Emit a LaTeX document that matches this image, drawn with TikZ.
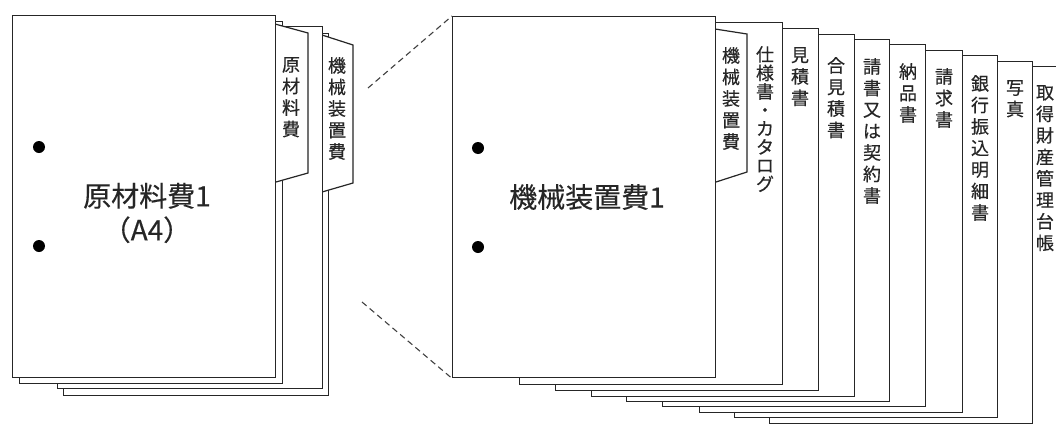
\documentclass[tikz,border=0pt]{standalone}
\usepackage{fontspec}
\newfontfamily\jp[FakeBold=0.4]{Noto Sans CJK JP}
\begin{document}
\begin{tikzpicture}[x=1pt,y=-1pt,
  pg/.style={draw=black!85, line width=1.4pt, fill=white, rectangle, anchor=north west, inner sep=0pt, minimum width=263pt, minimum height=362pt},
  tabshape/.style={draw=black!85, line width=1.2pt, fill=white, line join=miter},
  vlab/.style={anchor=north, inner sep=0pt, align=center, text=black!85, font=\jp\fontsize{18}{21.5}\selectfont},
  bigl/.style={inner sep=0pt, align=center, text=black!85, font=\jp\fontsize{28}{34}\selectfont},
  hole/.style={circle, fill=black, inner sep=0pt, minimum size=12pt},
  guide/.style={draw=black!75, line width=1.1pt, dash pattern=on 6pt off 4pt}]
\useasboundingbox (0,0) rectangle (1056,423);
\begin{scope}
\clip (0,0) rectangle (1056,423);
% ---------- left stack ----------
\node[pg, minimum width=265pt] (lD) at (63,33) {};
\draw[tabshape] (322,35) -- (353,45) -- (353,183) -- (322,192);
\node[vlab] (tl2) at (337,57) {機\\械\\装\\置\\費};
\node[pg, minimum width=265pt] (lC) at (57,26) {};
\node[pg] (lB) at (19,21) {};
\draw[tabshape] (275,24) -- (308,33) -- (308,173) -- (276,182);
\node[vlab] (tl1) at (291,57) {原\\材\\料\\費};
\node[pg] (lA) at (12,15) {};
\node[hole] (h1) at (39,147) {};
\node[hole] (h2) at (39,246) {};
\node[bigl] (la) at (147,213) {原材料費1\\（A4）};
% ---------- right stack ----------
\node[pg] (r10) at (805,66) {};
\node[vlab] (t10) at (1045,85) {取\\得\\財\\産\\管\\理\\台\\帳};
\node[pg] (r9) at (769,61) {};
\node[vlab] (t9) at (1015,80) {写\\真};
\node[pg] (r8) at (734,55) {};
\node[vlab] (t8) at (980,75) {銀\\行\\振\\込\\明\\細\\書};
\node[pg] (r7) at (699,50) {};
\node[vlab] (t7) at (944,68) {請\\求\\書};
\node[pg] (r6) at (662,44) {};
\node[vlab] (t6) at (908,63) {納\\品\\書};
\node[pg] (r5) at (626,39) {};
\node[vlab] (t5) at (872,58) {請\\書\\又\\は\\契\\約\\書};
\node[pg] (r4) at (591,34) {};
\node[vlab] (t4) at (836,57) {合\\見\\積\\書};
\node[pg] (r3) at (555,28) {};
\node[vlab] (t3) at (800,47) {見\\積\\書};
\node[pg] (r2) at (519,22) {};
\node[vlab, font=\jp\fontsize{18}{18.5}\selectfont] (t2) at (765,46) {仕\\様\\書\\・\\カ\\タ\\ロ\\グ};
\draw[tabshape] (715,29) -- (747,34) -- (747,172) -- (716,182);
\node[vlab] (tr) at (731,47) {機\\械\\装\\置\\費};
\node[pg, minimum height=361pt] (r1) at (452,16) {};
\node[hole] (h3) at (478,148) {};
\node[hole] (h4) at (478,247) {};
\node[bigl] (ra) at (587,197) {機械装置費1};
% ---------- guides ----------
\coordinate (g1) at (368,88);
\coordinate (g2) at (362,302);
\draw[guide] (g1) -- (r1.north west);
\draw[guide] (g2) -- (r1.south west);
\end{scope}
\end{tikzpicture}
\end{document}
